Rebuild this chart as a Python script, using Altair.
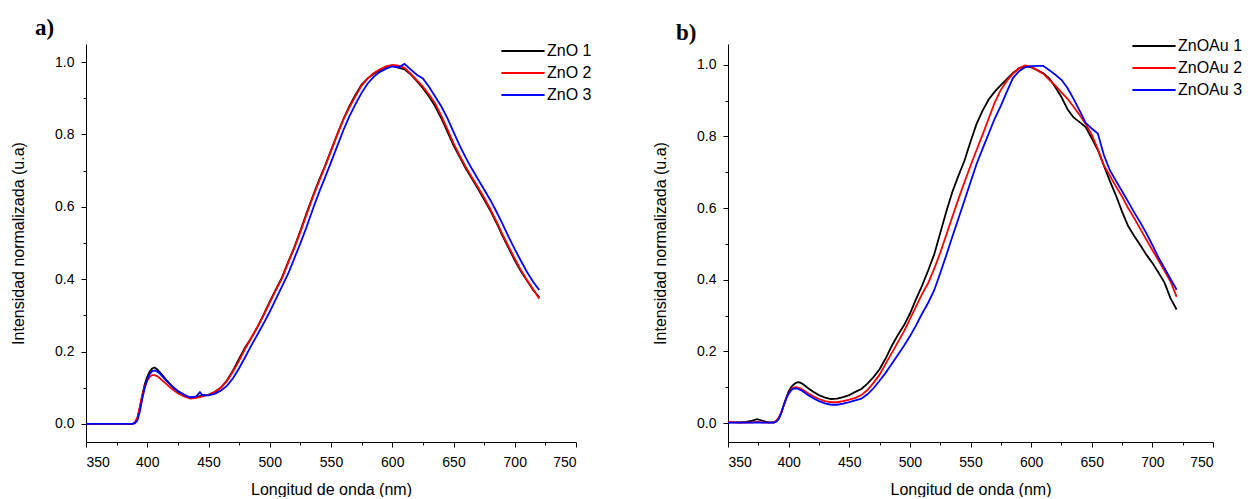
import altair as alt
import pandas as pd

# ---------------- data ----------------
WL_A = [350, 385, 388, 390, 392, 394, 396, 398, 400, 402, 404, 406, 408, 410,
        415, 420, 425, 430, 435, 440, 443,
        445, 450, 455, 460, 465, 470, 475, 480, 485, 490, 495, 500,
        505, 510, 515, 520, 525, 530, 535, 540, 545, 550, 555, 560, 565, 570, 575, 580, 585, 590, 595, 600,
        605, 610, 615, 620, 625, 630, 635, 640, 645, 650, 655, 660, 665, 670, 675, 680, 685, 690, 695, 700,
        705, 710, 715, 720]

ZNO_1 = [0, 0, 0, 0.004, 0.016, 0.045, 0.08, 0.11, 0.13, 0.145, 0.153, 0.156, 0.151, 0.144,
         0.124, 0.105, 0.091, 0.081, 0.073, 0.074, 0.077,
         0.079, 0.081, 0.088, 0.1, 0.12, 0.148, 0.18, 0.212, 0.238, 0.268, 0.302, 0.338,
         0.372, 0.405, 0.447, 0.488, 0.534, 0.582, 0.628, 0.672, 0.712, 0.756, 0.8, 0.842, 0.878, 0.91, 0.938, 0.955, 0.968, 0.978, 0.987, 0.99,
         0.985, 0.98, 0.966, 0.948, 0.928, 0.905, 0.878, 0.845, 0.808, 0.77, 0.738, 0.706, 0.678, 0.65, 0.62, 0.59, 0.556, 0.52, 0.486, 0.452,
         0.422, 0.396, 0.37, 0.35]

ZNO_2 = [0, 0, 0, 0.005, 0.018, 0.048, 0.08, 0.105, 0.12, 0.13, 0.135, 0.135, 0.132, 0.127,
         0.112, 0.097, 0.085, 0.076, 0.07, 0.072, 0.074,
         0.076, 0.08, 0.088, 0.1, 0.118, 0.145, 0.175, 0.208, 0.238, 0.268, 0.3, 0.335,
         0.37, 0.402, 0.445, 0.486, 0.53, 0.578, 0.625, 0.668, 0.71, 0.754, 0.798, 0.84, 0.875, 0.906, 0.935, 0.955, 0.97, 0.98, 0.988, 0.992,
         0.99, 0.984, 0.968, 0.95, 0.932, 0.91, 0.886, 0.852, 0.815, 0.776, 0.742, 0.71, 0.682, 0.654, 0.625, 0.594, 0.56, 0.524, 0.49, 0.457,
         0.425, 0.398, 0.372, 0.346]

ZNO_3 = [0, 0, 0, 0.002, 0.01, 0.035, 0.07, 0.1, 0.122, 0.138, 0.146, 0.148, 0.145, 0.14,
         0.122, 0.104, 0.09, 0.08, 0.073, 0.076, 0.088,
         0.079, 0.079, 0.083, 0.092, 0.105, 0.126, 0.154, 0.185, 0.217, 0.247, 0.278, 0.31,
         0.345, 0.38, 0.415, 0.457, 0.499, 0.544, 0.592, 0.638, 0.68, 0.723, 0.767, 0.811, 0.85, 0.884, 0.915, 0.941, 0.96, 0.973, 0.982, 0.988,
         0.985, 0.995, 0.98, 0.965, 0.955, 0.932, 0.905, 0.878, 0.845, 0.807, 0.77, 0.736, 0.705, 0.676, 0.648, 0.619, 0.587, 0.553, 0.517, 0.483,
         0.451, 0.42, 0.393, 0.37]

WL_B = [350, 360, 365, 370, 374, 378, 383, 388, 390, 392, 394, 396, 398, 400, 402, 404, 406, 408, 410, 412,
        415, 420, 425, 430, 435, 440,
        445, 450, 455, 460, 465, 470, 475, 480, 485, 490, 495, 500,
        505, 510, 515, 520, 525, 530, 535, 540, 545, 550, 555, 560, 565, 570, 575, 580, 585, 590, 595, 600,
        605, 610, 615, 620, 625, 630, 635, 640, 645, 650, 655, 660, 665, 670, 675, 680, 685, 690, 695, 700,
        705, 710, 715, 720]

ZNOAU_1 = [0.002, 0.002, 0.003, 0.007, 0.011, 0.007, 0.002, 0.002, 0.006, 0.015, 0.03, 0.05, 0.07, 0.088, 0.1, 0.107, 0.112, 0.114, 0.112, 0.108,
           0.1, 0.088, 0.078, 0.071, 0.067, 0.068,
           0.072, 0.078, 0.087, 0.095, 0.11, 0.128, 0.15, 0.18, 0.215, 0.245, 0.272, 0.305,
           0.345, 0.383, 0.425, 0.47, 0.53, 0.59, 0.645, 0.69, 0.732, 0.785, 0.835, 0.872, 0.903, 0.925, 0.943, 0.96, 0.977, 0.99, 0.996, 0.993,
           0.985, 0.976, 0.962, 0.937, 0.91, 0.876, 0.853, 0.84, 0.826, 0.795, 0.762, 0.718, 0.675, 0.635, 0.59, 0.55, 0.522, 0.497, 0.47, 0.447,
           0.42, 0.392, 0.348, 0.317]

ZNOAU_2 = [0.003, 0.001, 0.001, 0.002, 0.003, 0.002, 0.001, 0.002, 0.006, 0.015, 0.03, 0.05, 0.068, 0.083, 0.094, 0.099, 0.1, 0.099, 0.096, 0.092,
           0.085, 0.075, 0.067, 0.061, 0.058, 0.058,
           0.061, 0.065, 0.07, 0.078, 0.092, 0.112, 0.135, 0.165, 0.195, 0.225, 0.255, 0.29,
           0.325, 0.36, 0.39, 0.43, 0.475, 0.525, 0.575, 0.625, 0.672, 0.718, 0.762, 0.805, 0.85, 0.895, 0.93, 0.955, 0.975, 0.99, 0.998, 0.995,
           0.985, 0.975, 0.958, 0.942, 0.923, 0.905, 0.883, 0.86, 0.835, 0.805, 0.765, 0.72, 0.69, 0.66, 0.632, 0.6, 0.572, 0.542, 0.512, 0.483,
           0.454, 0.425, 0.395, 0.352]

ZNOAU_3 = [0.001, 0.001, 0.001, 0.001, 0.002, 0.001, 0.001, 0.001, 0.004, 0.012, 0.028, 0.05, 0.068, 0.082, 0.091, 0.096, 0.097, 0.095, 0.092, 0.088,
           0.08, 0.07, 0.061, 0.055, 0.051, 0.051,
           0.054, 0.058, 0.063, 0.068, 0.08, 0.097, 0.118, 0.14, 0.165, 0.19, 0.215, 0.242,
           0.272, 0.305, 0.335, 0.37, 0.418, 0.468, 0.52, 0.57, 0.621, 0.672, 0.723, 0.766, 0.808, 0.85, 0.885, 0.925, 0.963, 0.982, 0.993, 0.996,
           0.997, 0.997, 0.985, 0.972, 0.958, 0.935, 0.905, 0.872, 0.838, 0.822, 0.808, 0.748, 0.705, 0.676, 0.647, 0.618, 0.588, 0.56, 0.53, 0.497,
           0.462, 0.432, 0.402, 0.372]

NAMES_A = ["ZnO 1", "ZnO 2", "ZnO 3"]
NAMES_B = ["ZnOAu 1", "ZnOAu 2", "ZnOAu 3"]
COLORS = ["#000000", "#ff0000", "#0000ff"]

X_TICKS = [350, 375, 400, 425, 450, 475, 500, 525, 550, 575, 600, 625, 650, 675, 700, 725, 750]
Y_TICKS = [0.0, 0.1, 0.2, 0.3, 0.4, 0.5, 0.6, 0.7, 0.8, 0.9, 1.0]
Y_DOMAIN_A = [-0.05, 1.05]
Y_DOMAIN_B = [-0.053, 1.058]

X_TITLE = "Longitud de onda (nm)"
Y_TITLE = "Intensidad normalizada (u.a)"

for s in (ZNO_1, ZNO_2, ZNO_3):
    assert len(s) == len(WL_A), len(s)
for s in (ZNOAU_1, ZNOAU_2, ZNOAU_3):
    assert len(s) == len(WL_B), len(s)

FONT = "Liberation Sans"


def long_table(wl, names, series):
    rows = []
    for name, vals in zip(names, series):
        for x, y in zip(wl, vals):
            rows.append({"wl": x, "val": y, "serie": name})
    return pd.DataFrame(rows)


def panel(df, names, ydom, label, width, height, title_dx, title_offset, lx, ly, loff):
    x_axis = alt.Axis(
        values=X_TICKS,
        labelExpr="datum.value % 50 === 0 ? datum.label : ''",
        tickSize={"condition": {"test": "datum.value % 50 === 0", "value": 5}, "value": 3},
        title=X_TITLE, grid=False, labelPadding=8, titlePadding=12,
    )
    y_axis = alt.Axis(
        values=Y_TICKS,
        labelExpr="round(datum.value * 10) % 2 === 0 ? format(datum.value, '.1f') : ''",
        tickSize={"condition": {"test": "round(datum.value * 10) % 2 === 0", "value": 5}, "value": 3},
        title=Y_TITLE, grid=False, labelPadding=7, titlePadding=28,
    )
    legend = alt.Legend(
        orient="none", legendX=lx, legendY=ly, title=None,
        symbolType="M-3.6,0H3.6", symbolSize=144, symbolStrokeWidth=2,
        labelFont=FONT, labelFontSize=16, labelColor="black",
        labelOffset=loff, rowPadding=6, padding=0,
    )
    return alt.Chart(df).mark_line(strokeWidth=1.8).encode(
        x=alt.X("wl:Q", scale=alt.Scale(domain=[350, 750], nice=False, zero=False), axis=x_axis),
        y=alt.Y("val:Q", scale=alt.Scale(domain=ydom, nice=False, zero=False), axis=y_axis),
        color=alt.Color("serie:N", scale=alt.Scale(domain=names, range=COLORS), legend=legend),
    ).properties(
        width=width, height=height,
        title=alt.TitleParams(text=label, anchor="start", frame="group", dx=title_dx,
                              offset=title_offset, font="Liberation Serif", fontSize=23,
                              fontWeight="bold", color="black"),
    )


df_a = long_table(WL_A, NAMES_A, [ZNO_1, ZNO_2, ZNO_3])
df_b = long_table(WL_B, NAMES_B, [ZNOAU_1, ZNOAU_2, ZNOAU_3])

pa = panel(df_a, NAMES_A, Y_DOMAIN_A, "a)", 490, 398, -51, 3, 429, -1, 16)
pb = panel(df_b, NAMES_B, Y_DOMAIN_B, "b)", 485, 398, -52, -7, 418, -6, 16)

chart = alt.hconcat(pa, pb, spacing=60).resolve_scale(color="independent").properties(
    padding={"left": 2, "top": 9, "right": 0, "bottom": 0},
    background="white",
).configure_view(stroke=None).configure_axis(
    domainColor="black", tickColor="black", labelColor="black", titleColor="black",
    labelFont=FONT, titleFont=FONT, labelFontSize=14, titleFontSize=16,
    titleFontWeight="normal", domainWidth=1, tickWidth=1,
)

chart.save("out.html", embed_options={"renderer": "svg", "actions": False})
